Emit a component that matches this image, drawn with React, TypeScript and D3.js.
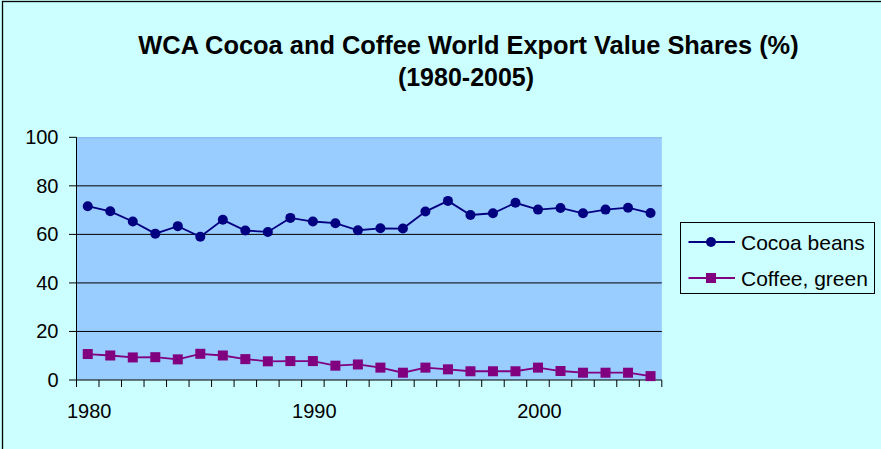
import React from 'react';
import * as d3 from 'd3';

// Categories (years) and the two export-share series, in percent
const years = [
  1980, 1981, 1982, 1983, 1984, 1985, 1986, 1987, 1988, 1989,
  1990, 1991, 1992, 1993, 1994, 1995, 1996, 1997, 1998, 1999,
  2000, 2001, 2002, 2003, 2004, 2005,
];
const cocoaBeans = [
  71.6, 69.5, 65.3, 60.3, 63.4, 59.0, 66.0, 61.6, 61.0, 66.8,
  65.3, 64.6, 61.7, 62.5, 62.4, 69.4, 73.8, 68.0, 68.7, 73.0,
  70.2, 70.9, 68.7, 70.2, 71.0, 68.8,
];
const coffeeGreen = [
  10.7, 10.1, 9.3, 9.4, 8.5, 10.8, 10.1, 8.6, 7.7, 7.8,
  7.8, 5.9, 6.4, 5.1, 3.0, 5.1, 4.4, 3.6, 3.6, 3.6,
  5.1, 3.7, 3.0, 3.0, 3.0, 1.6,
];
const yTicks = [0, 20, 40, 60, 80, 100];
const yGridValues = [20, 40, 60, 80];
const xLabelYears = [1980, 1990, 2000];
const seriesNames = ['Cocoa beans', 'Coffee, green'];
const titleLines = ['WCA Cocoa and Coffee World Export Value Shares (%)', '(1980-2005)'];

const W = 881;
const H = 449;
const FONT = 'Arial, "Liberation Sans", Helvetica, sans-serif';
const COCOA = '#000080';
const COFFEE = '#800080';

export default function App() {
  const x = d3.scaleBand<number>().domain(years).range([76.5, 661.8]).padding(0);
  const y = d3.scaleLinear().domain([0, 100]).range([380, 137.3]);
  const cx = (yr: number) => (x(yr) as number) + x.bandwidth() / 2;

  const cocoaPts = years.map((yr, i) => [cx(yr), y(cocoaBeans[i])] as [number, number]);
  const coffeePts = years.map((yr, i) => [cx(yr), y(coffeeGreen[i])] as [number, number]);
  const line = d3.line<[number, number]>();

  const [x0, x1] = x.range();
  const tickXs = years.map((yr) => x(yr) as number).concat([x1]);

  const legendX = 680.5;
  const legendY = 222.5;
  const legendRows = [
    { name: seriesNames[0], color: COCOA, shape: 'circle', cy: 242 },
    { name: seriesNames[1], color: COFFEE, shape: 'square', cy: 278 },
  ];

  return (
    <svg
      width={W}
      height={H}
      style={{ position: 'absolute', left: 0, top: 0, display: 'block' }}
      fontFamily={FONT}
    >
      <rect x={0} y={0} width={W} height={H} fill="#CCFFFF" />
      {/* chart frame */}
      <rect x={2.5} y={1.5} width={W + 20} height={H + 20} fill="none" stroke="#000" strokeWidth={1.3} />

      {/* title */}
      <text x={468.5} y={54} textAnchor="middle" fontSize={25.4} fontWeight="bold" fill="#000">
        {titleLines[0]}
      </text>
      <text x={466} y={86} textAnchor="middle" fontSize={25} fontWeight="bold" fill="#000">
        {titleLines[1]}
      </text>

      {/* plot area */}
      <rect x={x0} y={y(100)} width={x1 - x0} height={y(0) - y(100)} fill="#99CCFF" />
      <line x1={x0} x2={x1} y1={y(100) + 0.5} y2={y(100) + 0.5} stroke="#86B2E6" strokeWidth={1} />
      {yGridValues.map((v) => (
        <line key={v} x1={x0} x2={x1} y1={y(v)} y2={y(v)} stroke="#000" strokeWidth={1} />
      ))}

      {/* y axis */}
      <line x1={x0} x2={x0} y1={y(100)} y2={y(0)} stroke="#000" strokeWidth={1} />
      {yTicks.map((v) => (
        <g key={v}>
          <line x1={x0 - 7.5} x2={x0} y1={y(v)} y2={y(v)} stroke="#000" strokeWidth={1} />
          <text x={58.5} y={y(v)} dy="0.35em" textAnchor="end" fontSize={20} fill="#000">
            {v}
          </text>
        </g>
      ))}

      {/* x axis */}
      <line x1={x0} x2={x1} y1={y(0)} y2={y(0)} stroke="#000" strokeWidth={1} />
      {tickXs.map((tx, i) => (
        <line key={i} x1={tx} x2={tx} y1={y(0)} y2={y(0) + 7} stroke="#000" strokeWidth={1} />
      ))}
      {xLabelYears.map((yr) => (
        <text key={yr} x={cx(yr) + 1.5} y={418} textAnchor="middle" fontSize={20} fill="#000">
          {yr}
        </text>
      ))}

      {/* series */}
      <path d={line(cocoaPts) || ''} fill="none" stroke={COCOA} strokeWidth={1.8} />
      {cocoaPts.map(([px, py], i) => (
        <circle key={i} cx={px} cy={py} r={5} fill={COCOA} />
      ))}
      <path d={line(coffeePts) || ''} fill="none" stroke={COFFEE} strokeWidth={1.8} />
      {coffeePts.map(([px, py], i) => (
        <rect key={i} x={px - 5} y={py - 5} width={10} height={10} fill={COFFEE} />
      ))}

      {/* legend */}
      <rect x={legendX} y={legendY} width={194} height={71} fill="#CCFFFF" stroke="#000" strokeWidth={1} />
      {legendRows.map((r) => (
        <g key={r.name}>
          <line x1={688.5} x2={735} y1={r.cy} y2={r.cy} stroke={r.color} strokeWidth={1.8} />
          {r.shape === 'circle' ? (
            <circle cx={711} cy={r.cy} r={5} fill={r.color} />
          ) : (
            <rect x={706} y={r.cy - 5} width={10} height={10} fill={r.color} />
          )}
          <text x={741} y={r.cy + 7.5} fontSize={21} fill="#000">
            {r.name}
          </text>
        </g>
      ))}
    </svg>
  );
}
